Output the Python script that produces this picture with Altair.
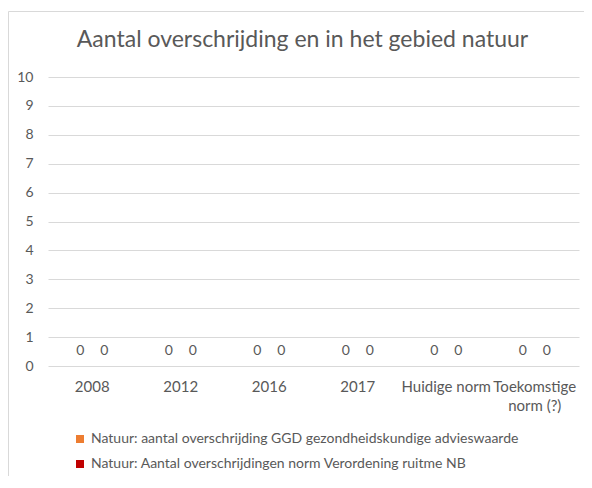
import altair as alt
import pandas as pd

categories = ["2008", "2012", "2016", "2017", "Huidige norm", "Toekomstige norm (?)"]
series = [
    "Natuur: aantal overschrijding GGD gezondheidskundige advieswaarde",
    "Natuur: Aantal overschrijdingen norm Verordening ruitme NB",
]
ggd_values = [0, 0, 0, 0, 0, 0]
norm_values = [0, 0, 0, 0, 0, 0]
y_ticks = [0, 1, 2, 3, 4, 5, 6, 7, 8, 9, 10]
colors = ["#ED7D31", "#C00000"]
title_text = "Aantal overschrijding en in het gebied natuur"

rows = []
for c, v in zip(categories, ggd_values):
    rows.append({"categorie": c, "reeks": series[0], "waarde": v})
for c, v in zip(categories, norm_values):
    rows.append({"categorie": c, "reeks": series[1], "waarde": v})
df = pd.DataFrame(rows)

FONT = "Lato"
GREY = "#595959"

base = alt.Chart(df).encode(
    x=alt.X(
        "categorie:N",
        sort=categories,
        title=None,
        scale=alt.Scale(paddingInner=0, paddingOuter=0),
        axis=alt.Axis(
            domain=False,
            ticks=False,
            labelAngle=0,
            labelPadding=13,
            labelFontSize=15,
            labelLineHeight=19,
            labelColor=GREY,
            labelFont=FONT,
            labelLimit=0,
            labelOverlap=False,
            labelExpr="datum.value == 'Toekomstige norm (?)' ? ['Toekomstige', 'norm (?)'] : datum.value",
        ),
    ),
    xOffset=alt.XOffset(
        "reeks:N", sort=series, scale=alt.Scale(paddingOuter=0.84, paddingInner=0)
    ),
    y=alt.Y(
        "waarde:Q",
        title=None,
        scale=alt.Scale(domain=[0, 10]),
        axis=alt.Axis(
            values=y_ticks,
            domain=False,
            ticks=False,
            grid=True,
            gridColor="#d9d9d9",
            labelPadding=15,
            labelFontSize=14,
            labelColor=GREY,
            labelFont=FONT,
        ),
    ),
)

bars = base.mark_bar().encode(
    color=alt.Color(
        "reeks:N",
        sort=series,
        scale=alt.Scale(domain=series, range=colors),
        legend=alt.Legend(
            title=None,
            orient="none",
            legendX=25,
            legendY=355,
            direction="vertical",
            symbolType="square",
            symbolSize=64,
            symbolStrokeWidth=0,
            labelFontSize=14,
            labelFont=FONT,
            labelColor=GREY,
            labelLimit=0,
            rowPadding=11,
            padding=0,
        ),
    )
)

labels = base.mark_text(dy=-15, fontSize=14, font=FONT, color=GREY).encode(
    text="waarde:Q"
)

frame_df = pd.DataFrame({"k": [0]})
border = alt.Chart(frame_df).mark_rect(
    fill=None, stroke="#d9d9d9", strokeWidth=1
).encode(
    x=alt.value(-39.5), x2=alt.value(700), y=alt.value(-65.5), y2=alt.value(700)
)

title = alt.Chart(frame_df).mark_text(
    text=title_text, fontSize=23, font=FONT, color=GREY, baseline="alphabetic", align="center"
).encode(x=alt.value(254.5), y=alt.value(-30))

chart = alt.layer(border, bars, labels, title).properties(
    width=531,
    height=289,
    autosize=alt.AutoSizeParams(type="none"),
    padding={"left": 40, "top": 69, "right": 5, "bottom": 110},
).configure_view(stroke=None)

chart.save("out.html", embed_options={"renderer": "svg", "actions": False})
